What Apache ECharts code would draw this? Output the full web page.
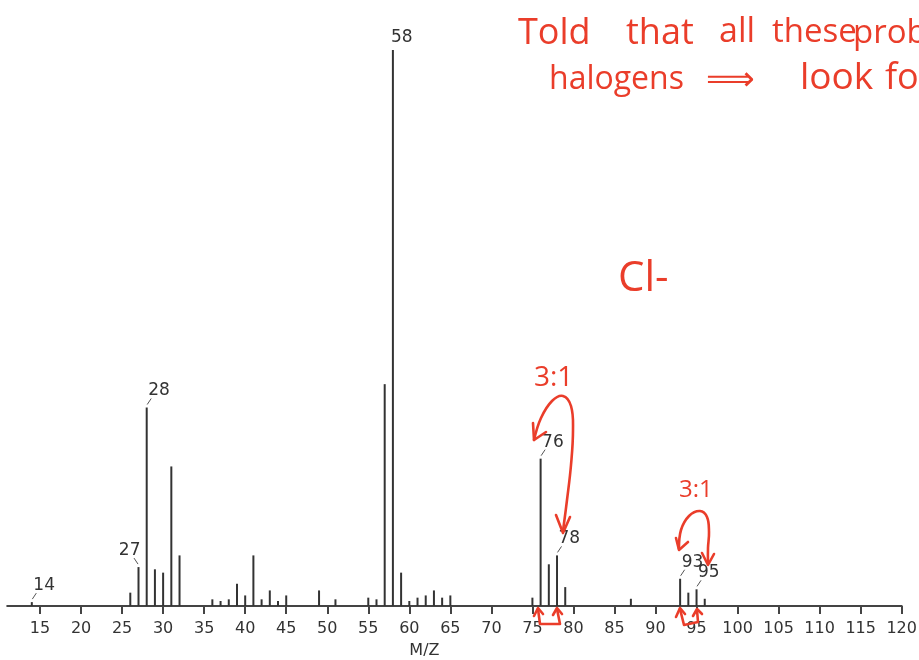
<!DOCTYPE html>
<html>
<head>
<meta charset="utf-8">
<script src="https://cdn.jsdelivr.net/npm/echarts@6/dist/echarts.min.js"></script>
<style>
  html, body { margin: 0; padding: 0; background: #ffffff; }
  #chart { width: 919px; height: 660px; }
</style>
</head>
<body>
<div id="chart"></div>
<script>
// Mass spectrum: m/z positions and relative abundance (% of base peak)
const massToCharge = [14, 26, 27, 28, 29, 30, 31, 32, 36, 37, 38, 39, 40, 41, 42, 43, 44, 45,
  49, 51, 55, 56, 57, 58, 59, 60, 61, 62, 63, 64, 65, 75, 76, 77, 78, 79, 87, 93, 94, 95, 96];
const relIntensity = [0.7, 2.4, 7.0, 35.7, 6.6, 6.0, 25.1, 9.1, 1.2, 0.9, 1.2, 4.0, 1.9, 9.1, 1.2, 2.8, 0.9, 1.9,
  2.8, 1.2, 1.5, 1.2, 39.9, 100, 6.0, 0.9, 1.5, 1.9, 2.8, 1.5, 1.9, 1.5, 26.5, 7.5, 9.1, 3.4, 1.3, 4.9, 2.4, 3.0, 1.3];
// Peaks that carry an m/z label
const labelledPeaks = [14, 27, 28, 58, 76, 78, 93, 95];
// Axis tick labels
const tickValues = [15, 20, 25, 30, 35, 40, 45, 50, 55, 60, 65, 70, 75, 80, 85, 90, 95, 100, 105, 110, 115, 120];

const INK = '#333333';
const RED = '#ea3d2a';
const HAND = "'Open Sans', 'Noto Sans', sans-serif";

const peakData = massToCharge.map((m, i) => [m, relIntensity[i]]);
const labelData = labelledPeaks.map(m => [m, relIntensity[massToCharge.indexOf(m)]]);

// label + short slanted leader above a peak
function renderPeakLabel(params, api) {
  const m = api.value(0);
  const v = api.value(1);
  const pt = api.coord([m, v]);
  const x = pt[0], top = pt[1];
  // peak 27 leans its label to the left so it clears the taller peak 28
  const dir = (m === 27) ? -1 : 1;
  const minCenter = params.coordSys.y - 12;
  let cy = top - 16.5;
  let clamped = false;
  if (cy < minCenter) { cy = minCenter; clamped = true; }
  const children = [];
  if (!clamped) {
    children.push({
      type: 'line',
      shape: { x1: x + dir * 0.5, y1: top - 3, x2: x + dir * 4.5, y2: top - 9 },
      style: { stroke: '#555', lineWidth: 1 }
    });
  }
  children.push({
    type: 'text',
    style: {
      text: String(m),
      x: dir > 0 ? x + (clamped ? -2 : 1.5) : x + 2,
      y: cy,
      align: dir > 0 ? 'left' : 'right',
      verticalAlign: 'middle',
      font: '17px "DejaVu Sans", sans-serif',
      fill: '#333'
    }
  });
  return { type: 'group', children };
}

// handwritten notes
function note(text, x, baseline, size, family) {
  return {
    type: 'text', silent: true, z: 10,
    style: {
      text, x, y: baseline - 0.32 * size,
      align: 'left', verticalAlign: 'middle',
      font: size + 'px ' + (family || HAND),
      fill: RED
    }
  };
}
function pen(points, smooth) {
  return {
    type: 'polyline', silent: true, z: 10,
    shape: { points, smooth: smooth || 0 },
    style: { stroke: RED, lineWidth: 2.6, fill: null, lineCap: 'round', lineJoin: 'round' }
  };
}

const annotations = [
  note('Told', 518, 45, 36),
  note('that', 626, 45, 36),
  note('all', 719, 43, 34),
  note('these', 772, 43, 33),
  note('prob', 853, 44, 33),
  note('halogens', 549, 90, 32),
  note('\u27F9', 706, 92, 34, "'DejaVu Sans', sans-serif"),
  note('look', 800, 90, 37),
  note('fo', 885, 90, 36),
  note('Cl-', 618, 292, 42),
  note('3:1', 534, 387, 28),
  note('3:1', 679, 498, 24),
  // loop linking 76 and 78
  pen([[534, 440], [541, 418], [552, 401], [563, 396], [571, 406], [573, 430], [571, 465], [567, 500], [563, 531]], 0.4),
  pen([[533, 423], [534, 440], [546, 432]]),
  pen([[556, 515], [563, 533], [570, 517]]),
  // loop linking 93 and 95
  pen([[679, 549], [681, 530], [689, 516], [700, 511], [707, 517], [709, 532], [708, 548], [708, 563]], 0.4),
  pen([[676, 538], [679, 550], [688, 542]]),
  pen([[702, 553], [708, 565], [714, 554]]),
  // brackets under the axis
  pen([[538, 609], [540, 624], [560, 624], [557, 609]]),
  pen([[534, 616], [538, 608], [543, 614]]),
  pen([[553, 615], [557, 608], [562, 614]]),
  pen([[680, 609], [684, 625], [698, 622], [697, 610]]),
  pen([[676, 617], [680, 608], [685, 614]]),
  pen([[693, 616], [697, 609], [702, 614]])
];

const chart = echarts.init(document.getElementById('chart'), null, { renderer: 'canvas' });
chart.setOption({
  animation: false,
  backgroundColor: '#ffffff',
  grid: { left: 7.2, right: 17.3, top: 50, bottom: 54, containLabel: false, outerBoundsMode: 'none' },
  xAxis: {
    type: 'value',
    min: 11,
    max: 120,
    name: 'M/Z',
    nameLocation: 'middle',
    nameGap: 37,
    nameTextStyle: { color: '#333', fontFamily: 'DejaVu Sans', fontSize: 16, padding: [0, 60, 0, 0] },
    axisLine: { show: true, onZero: true, lineStyle: { color: '#444', width: 2 } },
    axisTick: { show: true, inside: false, length: 8, customValues: tickValues, lineStyle: { color: '#444', width: 2 } },
    axisLabel: { customValues: tickValues, margin: 15, color: '#333', fontFamily: 'DejaVu Sans', fontSize: 16 },
    splitLine: { show: false }
  },
  yAxis: { type: 'value', min: 0, max: 100, show: false },
  series: [
    {
      type: 'bar',
      data: peakData,
      barWidth: 2,
      silent: true,
      itemStyle: { color: INK }
    },
    {
      type: 'custom',
      data: labelData,
      renderItem: renderPeakLabel,
      silent: true,
      clip: false,
      z: 5
    }
  ],
  graphic: annotations
});
</script>
</body>
</html>
